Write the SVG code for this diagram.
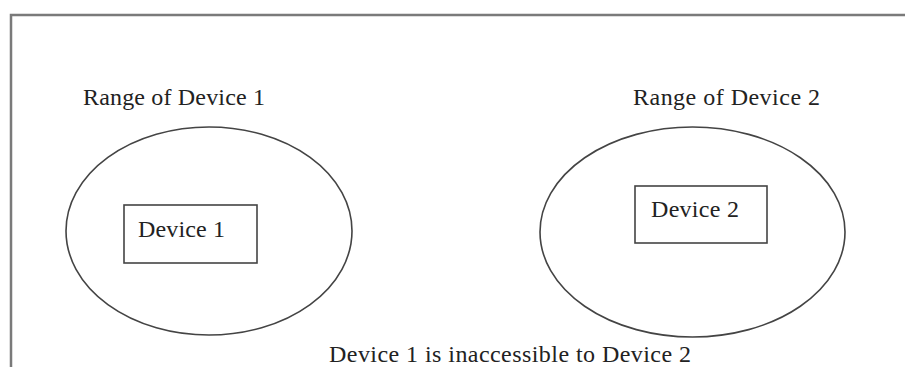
<svg xmlns="http://www.w3.org/2000/svg" width="905" height="367" viewBox="0 0 905 367">
<style>
text{font-family:"Liberation Serif","Times New Roman",serif;font-size:24px;fill:#222}
.rng{fill:none;stroke:#444;stroke-width:1.6}
.box{fill:#fff;stroke:#444;stroke-width:1.6}
</style>
<rect width="905" height="367" fill="#fff"/>
<path d="M11,367 V15 H905" fill="none" stroke="#7a7a7a" stroke-width="2.5"/>
<g id="range1">
<ellipse class="rng" cx="209" cy="231" rx="143" ry="104"/>
<text x="83" y="105" textLength="182">Range of Device 1</text>
</g>
<g id="range2">
<ellipse class="rng" cx="692.5" cy="232" rx="152.5" ry="105"/>
<text x="633" y="105" textLength="187">Range of Device 2</text>
</g>
<g id="device1">
<rect class="box" x="124" y="205" width="133" height="58"/>
<text x="138" y="237" textLength="87">Device 1</text>
</g>
<g id="device2">
<rect class="box" x="635" y="186" width="132" height="57"/>
<text x="651" y="217" textLength="88">Device 2</text>
</g>
<g id="connectors"/>
<text id="caption" x="329" y="362" textLength="362">Device 1 is inaccessible to Device 2</text>
</svg>
